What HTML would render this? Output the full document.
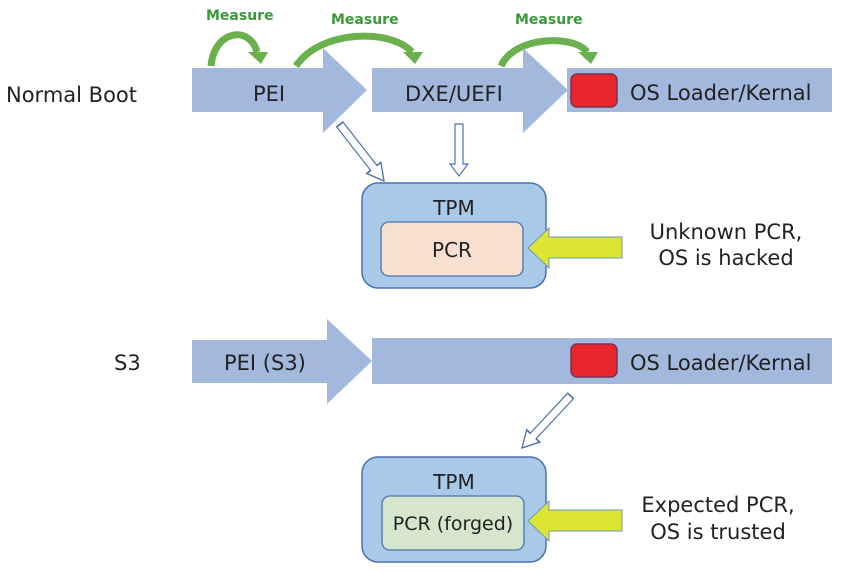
<!DOCTYPE html>
<html><head><style>
html,body{margin:0;padding:0;background:#fff;}
svg{display:block;}
text{font-family:"DejaVu Sans","Liberation Sans",sans-serif;fill:#222;}
</style></head><body>
<svg width="841" height="572" viewBox="0 0 841 572">
<defs>
<g id="hol">
<polygon points="-4,-52 4,-52 4,-12 9,-12 0,0 -9,-12 -4,-12" fill="#fff" stroke="#4a72b0" stroke-width="1.2"/>
</g>
</defs>
<!-- Measure arcs -->
<g fill="none" stroke="#6ab04c" stroke-width="7">
<path d="M211,66 C214,30 250,25 257,52"/>
<path d="M296,66 C320,30 390,28 412,52"/>
<path d="M501,66 C515,35 575,35 587,52"/>
</g>
<g fill="#6ab04c">
<polygon points="248,52 268,52 261,64"/>
<polygon points="403,52 423,52 415,64"/>
<polygon points="578,52 598,52 591,64"/>
</g>
<g font-weight="bold" font-size="14">
<text x="206" y="20" style="fill:#3a9a3a">Measure</text>
<text x="331" y="24" style="fill:#3a9a3a">Measure</text>
<text x="515" y="24" style="fill:#3a9a3a">Measure</text>
</g>
<!-- Normal boot row -->
<polygon points="192,68 323,68 323,48 367,90 323,133 323,112 192,112" fill="#a2b9dd"/>
<polygon points="372,68 523,68 523,48 568,90 523,133 523,112 372,112" fill="#a2b9dd"/>
<rect x="567" y="68" width="265" height="44" fill="#a2b9dd"/>
<rect x="571" y="74" width="46" height="33" rx="6" fill="#e8262c" stroke="#7a3050" stroke-width="1.5"/>
<text x="253" y="101" font-size="21">PEI</text>
<text x="405" y="101" font-size="21">DXE/UEFI</text>
<text x="630" y="100" font-size="21">OS Loader/Kernal</text>
<text x="6" y="102" font-size="21">Normal Boot</text>
<!-- hollow arrows -->
<use href="#hol" transform="translate(459,176)"/>
<use href="#hol" transform="translate(384,181) rotate(-38) scale(1,1.38)"/>
<!-- TPM 1 -->
<rect x="362" y="183" width="184" height="105" rx="16" fill="#a9c9e8" stroke="#4a72b0" stroke-width="1.5"/>
<text x="454" y="215" font-size="20" text-anchor="middle">TPM</text>
<rect x="381" y="222" width="142" height="54" rx="8" fill="#f8dfcf" stroke="#4a72b0" stroke-width="1.3"/>
<text x="452" y="257" font-size="20" text-anchor="middle">PCR</text>
<polygon points="528,248 549,228 549,237 622,237 622,258 549,258 549,268" fill="#dce534" stroke="#6a9ab0" stroke-width="1"/>
<text x="726" y="239" font-size="21" text-anchor="middle">Unknown PCR,</text>
<text x="726" y="265" font-size="21" text-anchor="middle">OS is hacked</text>
<!-- S3 row -->
<polygon points="192,340 327,340 327,319 372,361 327,404 327,383 192,383" fill="#a2b9dd"/>
<rect x="372" y="338" width="460" height="46" fill="#a2b9dd"/>
<rect x="571" y="344" width="46" height="33" rx="6" fill="#e8262c" stroke="#7a3050" stroke-width="1.5"/>
<text x="224" y="370" font-size="21">PEI (S3)</text>
<text x="630" y="370" font-size="21">OS Loader/Kernal</text>
<text x="114" y="370" font-size="21">S3</text>
<use href="#hol" transform="translate(522,448) rotate(43) scale(1,1.37)"/>
<!-- TPM 2 -->
<rect x="362" y="457" width="184" height="105" rx="16" fill="#a9c9e8" stroke="#4a72b0" stroke-width="1.5"/>
<text x="454" y="489" font-size="20" text-anchor="middle">TPM</text>
<rect x="382" y="496" width="142" height="54" rx="8" fill="#d6e6cd" stroke="#4a72b0" stroke-width="1.3"/>
<text x="453" y="530" font-size="19" text-anchor="middle">PCR (forged)</text>
<polygon points="528,521 549,501 549,510 622,510 622,531 549,531 549,541" fill="#dce534" stroke="#6a9ab0" stroke-width="1"/>
<text x="718" y="512" font-size="21" text-anchor="middle">Expected PCR,</text>
<text x="718" y="539" font-size="21" text-anchor="middle">OS is trusted</text>
</svg>
</body></html>
